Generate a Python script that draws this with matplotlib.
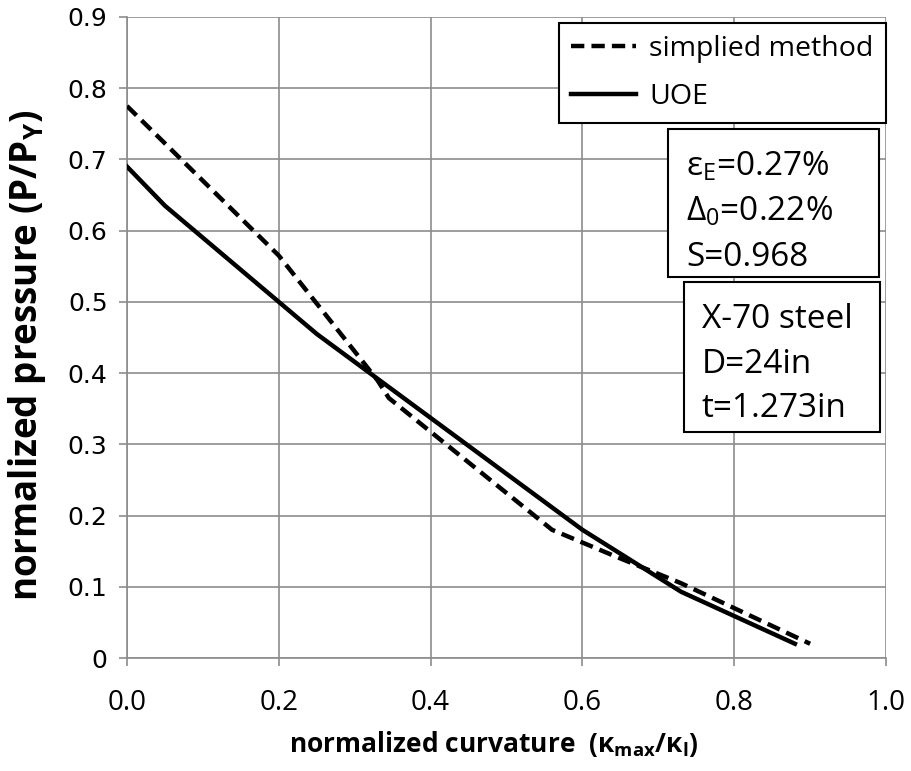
import matplotlib
matplotlib.use("Agg")
import matplotlib.pyplot as plt
from matplotlib.patches import Rectangle

plt.rcParams['font.family'] = ['Open Sans', 'DejaVu Sans']
plt.rcParams['mathtext.fontset'] = 'custom'
plt.rcParams['mathtext.rm'] = 'Open Sans'
plt.rcParams['mathtext.bf'] = 'Open Sans:bold'
plt.rcParams['mathtext.it'] = 'Open Sans:italic'

# data
simp_x = [0.0, 0.2, 0.33, 0.345, 0.56, 0.645, 0.73, 0.90]
simp_y = [0.775, 0.565, 0.39, 0.365, 0.18, 0.142, 0.105, 0.02]
uoe_x = [0.0, 0.05, 0.25, 0.60, 0.73, 0.88]
uoe_y = [0.69, 0.635, 0.455, 0.18, 0.093, 0.02]
xticks = [0.0, 0.2, 0.4, 0.6, 0.8, 1.0]
xticklabels = ['0.0', '0.2', '0.4', '0.6', '0.8', '1.0']
yticks = [0.0, 0.1, 0.2, 0.3, 0.4, 0.5, 0.6, 0.7, 0.8, 0.9]
yticklabels = ['0', '0.1', '0.2', '0.3', '0.4', '0.5', '0.6', '0.7', '0.8', '0.9']

W, H = 912, 771
fig = plt.figure(figsize=(W / 100, H / 100), dpi=100)
ax = fig.add_axes([127 / W, 1 - 658 / H, (886 - 127) / W, (658 - 17) / H])

ax.plot(simp_x, simp_y, color='black', lw=3.2, ls='--', dashes=(3.0, 1.6),
        label='simplied method', zorder=3)
ax.plot(uoe_x, uoe_y, color='black', lw=3.2, label='UOE', zorder=3)

ax.set_xlim(0, 1.0)
ax.set_ylim(0, 0.9)
ax.set_xticks(xticks)
ax.set_xticklabels(xticklabels, fontsize=20)
ax.set_yticks(yticks)
ax.set_yticklabels(yticklabels, fontsize=18, family='DejaVu Sans')
ax.grid(True, color='#8c8c8c', lw=1.2)
ax.set_axisbelow(True)
for s in ['top', 'right']:
    ax.spines[s].set_visible(False)
for s in ['left', 'bottom']:
    ax.spines[s].set_color('#8c8c8c')
    ax.spines[s].set_linewidth(1.2)
ax.tick_params(axis='both', direction='out', color='#8c8c8c', width=1.2, length=6)
ax.tick_params(axis='y', pad=8)
ax.tick_params(axis='x', pad=16)

ax.set_xlabel(r'normalized curvature  (κ$_{\mathbf{max}}$/κ$_{\mathbf{l}}$)',
              fontsize=19, fontweight='bold', va='top')
ax.xaxis.set_label_coords((494 - 127) / 759, -(729 - 658) / 641)
ax.set_ylabel(r'normalized pressure (P/P$_{\mathbf{Y}}$)',
              fontsize=26.5, fontweight='bold')
ax.yaxis.set_label_coords((48 - 127) / 759, (658 - 355) / 641)

leg = ax.legend(loc='upper left', bbox_to_anchor=(559 / W, 1 - 23 / H),
                bbox_transform=fig.transFigure, fontsize=20.5, frameon=True,
                fancybox=False, edgecolor='black', framealpha=1,
                handlelength=2.3, handletextpad=0.45, borderpad=0.42,
                labelspacing=0.72, borderaxespad=0)
leg.get_frame().set_linewidth(1.5)


def box(x0, y0, x1, y1):
    r = Rectangle((x0 / W, 1 - y1 / H), (x1 - x0) / W, (y1 - y0) / H,
                  transform=fig.transFigure, facecolor='white',
                  edgecolor='black', lw=1.5, zorder=5)
    fig.add_artist(r)


box(668, 129, 879, 277)
box(684, 282, 880, 432)

lines1 = [r'ε$_{\mathrm{E}}$=0.27%', r'Δ$_{\mathrm{0}}$=0.22%', 'S=0.968']
ys1 = [176, 221, 266]
for t, y in zip(lines1, ys1):
    fig.text(686 / W, 1 - y / H, t, fontsize=24, va='baseline', ha='left', zorder=6)

lines2 = ['X-70 steel', 'D=24in', 't=1.273in']
ys2 = [328, 373, 417]
for t, y in zip(lines2, ys2):
    fig.text(702 / W, 1 - y / H, t, fontsize=24, va='baseline', ha='left', zorder=6)

fig.savefig('out.png', dpi=100)
